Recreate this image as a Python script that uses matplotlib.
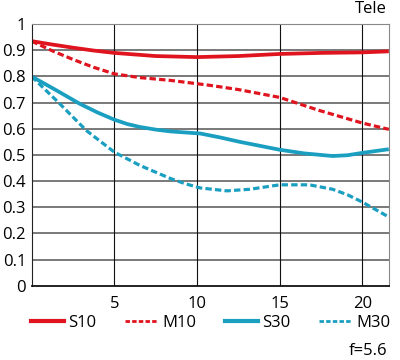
import numpy as np
import matplotlib
matplotlib.use('Agg')
import matplotlib.pyplot as plt
from matplotlib.lines import Line2D

plt.rcParams['font.family'] = ['Open Sans', 'DejaVu Sans']

# image height (mm) vs MTF
x_s10 = [0, 1.25, 2.5, 3.75, 5, 7.5, 10, 12.5, 15, 17.5, 20, 21.6]
s10 = [0.935, 0.922, 0.91, 0.899, 0.89, 0.878, 0.874, 0.878, 0.886, 0.89, 0.892, 0.896]

x_m10 = [0, 1.25, 2.5, 3.75, 5, 6.5, 8.4, 10.8, 12.5, 15, 17.4, 20, 21.6]
m10 = [0.935, 0.898, 0.865, 0.835, 0.81, 0.796, 0.785, 0.766, 0.75, 0.72, 0.67, 0.622, 0.598]

x_s30 = [0, 1.5, 2.9, 4.0, 5.0, 5.8, 6.55, 7.5, 8.4, 10.2, 11.4, 12.6, 13.8, 15.0, 16.5, 18.2, 19.1, 20.0, 21.6]
s30 = [0.80, 0.747, 0.696, 0.662, 0.635, 0.618, 0.607, 0.597, 0.59, 0.582, 0.567, 0.55, 0.535, 0.52, 0.506, 0.496, 0.499, 0.508, 0.522]

x_m30 = [0, 1.7, 3.3, 4.2, 5.0, 6.55, 8.4, 9.3, 10.2, 11.8, 13.2, 15.0, 16.8, 18.2, 19.1, 20.0, 21.6]
m30 = [0.80, 0.696, 0.594, 0.55, 0.511, 0.46, 0.41, 0.39, 0.374, 0.363, 0.369, 0.386, 0.386, 0.369, 0.348, 0.32, 0.263]

labels = ['S10', 'M10', 'S30', 'M30']

red = '#e0141e'
blue = '#1a9fc1'

fig = plt.figure(figsize=(4, 3.6), dpi=100)
ax = fig.add_axes([0.079, 0.206, 0.893, 0.727])

ax.plot(x_s10, s10, color=red, lw=2.7, solid_capstyle='butt')
ax.plot(x_m10, m10, color=red, lw=2.3, dashes=(2, 1))
ax.plot(x_s30, s30, color=blue, lw=2.7, solid_capstyle='butt')
ax.plot(x_m30, m30, color=blue, lw=2.3, dashes=(2, 1))

ax.set_xlim(0, 21.6)
ax.set_ylim(0, 1)
ax.set_xticks([5, 10, 15, 20])
ax.set_yticks(np.arange(0, 1.01, 0.1))
ax.set_yticklabels(['0'] + ['%.1f' % v for v in np.arange(0.1, 0.95, 0.1)] + ['1'])
ax.tick_params(length=0, labelsize=12, pad=4)
ax.tick_params(axis='x', pad=7)

for v in np.arange(0.1, 1.0, 0.1):
    ax.axhline(v, color='#555555', lw=1.1, zorder=0)
for v in [5, 10, 15, 20]:
    ax.axvline(v, color='#111111', lw=0.8, zorder=0)

ax.spines['left'].set_color('#222222')
ax.spines['bottom'].set_color('#111111')
ax.spines['bottom'].set_linewidth(1.3)
ax.spines['top'].set_color('#888888')
ax.spines['right'].set_color('#888888')

handles = [
    Line2D([], [], color=red, lw=3.0),
    Line2D([], [], color=red, lw=2.0, dashes=(1.6, 0.8)),
    Line2D([], [], color=blue, lw=3.0),
    Line2D([], [], color=blue, lw=2.0, dashes=(1.6, 0.8)),
]
ax.legend(handles, labels, loc='upper left', bbox_to_anchor=(-0.02, -0.085), ncol=4,
          frameon=False, fontsize=12, handlelength=2.0, handletextpad=0.25,
          columnspacing=1.7, borderaxespad=0)

fig.text(0.968, 0.952, 'Tele', ha='right', va='bottom', fontsize=12)
fig.text(0.968, 0.004, 'f=5.6', ha='right', va='bottom', fontsize=12)

fig.savefig('out.png', dpi=100)
